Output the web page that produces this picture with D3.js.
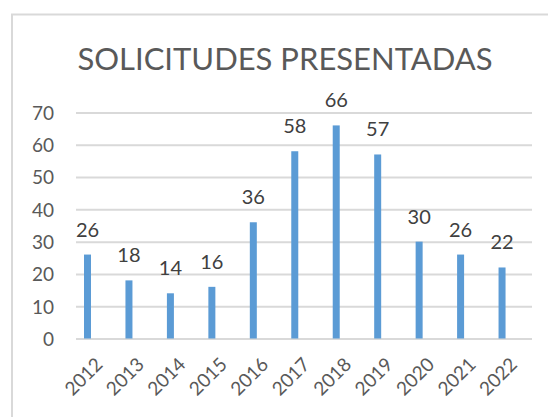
<!DOCTYPE html>
<html>
<head>
<meta charset="utf-8">
<script src="https://cdn.jsdelivr.net/npm/d3@7"></script>
<style>
  body { margin: 0; background: #fff; }
  text { font-family: Lato, "Open Sans", sans-serif; }
</style>
</head>
<body>
<div id="chart"></div>
<script>
const years = ["2012", "2013", "2014", "2015", "2016", "2017", "2018", "2019", "2020", "2021", "2022"];
const solicitudes = [26, 18, 14, 16, 36, 58, 66, 57, 30, 26, 22];
const yTicks = [0, 10, 20, 30, 40, 50, 60, 70];
const chartTitle = "SOLICITUDES PRESENTADAS";

const width = 548;
const height = 417;
const plot = { left: 76, right: 532, top: 112.5, bottom: 338.5 };

const svg = d3.select("#chart")
    .append("svg")
    .attr("width", width)
    .attr("height", height);

// chart frame (runs off the right and bottom edge)
svg.append("rect")
    .attr("x", 12)
    .attr("y", 14.5)
    .attr("width", 600)
    .attr("height", 500)
    .attr("fill", "none")
    .attr("stroke", "#d9d9d9")
    .attr("stroke-width", 2);

svg.append("text")
    .attr("x", 285)
    .attr("y", 69.5)
    .attr("text-anchor", "middle")
    .attr("fill", "#595959")
    .style("font-size", "31px")
    .text(chartTitle);

const xScale = d3.scaleBand()
    .domain(years)
    .range([plot.left, plot.right]);

const yScale = d3.scaleLinear()
    .domain([0, 70])
    .range([plot.bottom, plot.top]);

// gridlines + y labels
const yAxis = svg.append("g")
    .attr("transform", `translate(${plot.left},0)`)
    .call(d3.axisLeft(yScale).tickValues(yTicks).tickSize(-(plot.right - plot.left)).tickPadding(22));

yAxis.select(".domain").remove();
yAxis.selectAll(".tick line")
    .attr("stroke", "#d9d9d9")
    .attr("stroke-width", 2);
yAxis.selectAll(".tick text")
    .attr("fill", "#595959")
    .attr("dy", "0.36em")
    .style("font-size", "19px");

// x labels
const xAxis = svg.append("g")
    .attr("transform", `translate(0,${plot.bottom})`)
    .call(d3.axisBottom(xScale).tickSize(0));

xAxis.select(".domain").remove();
xAxis.selectAll(".tick text")
    .attr("fill", "#595959")
    .style("font-size", "19px")
    .attr("text-anchor", "end")
    .attr("dy", null)
    .attr("transform", "translate(5,25) rotate(-45)");

const barOffset = 8;
const barWidth = 7;

svg.selectAll(".bar")
    .data(solicitudes)
    .enter()
    .append("rect")
    .attr("class", "bar")
    .attr("x", (d, i) => xScale(years[i]) + barOffset)
    .attr("y", d => yScale(d))
    .attr("width", barWidth)
    .attr("height", d => plot.bottom - yScale(d))
    .attr("fill", "#5b9bd5");

svg.selectAll(".label")
    .data(solicitudes)
    .enter()
    .append("text")
    .attr("class", "label")
    .attr("x", (d, i) => xScale(years[i]) + barOffset + barWidth / 2)
    .attr("y", d => yScale(d) - 18)
    .attr("text-anchor", "middle")
    .attr("fill", "#404040")
    .style("font-size", "20px")
    .text(d => d);
</script>
</body>
</html>
